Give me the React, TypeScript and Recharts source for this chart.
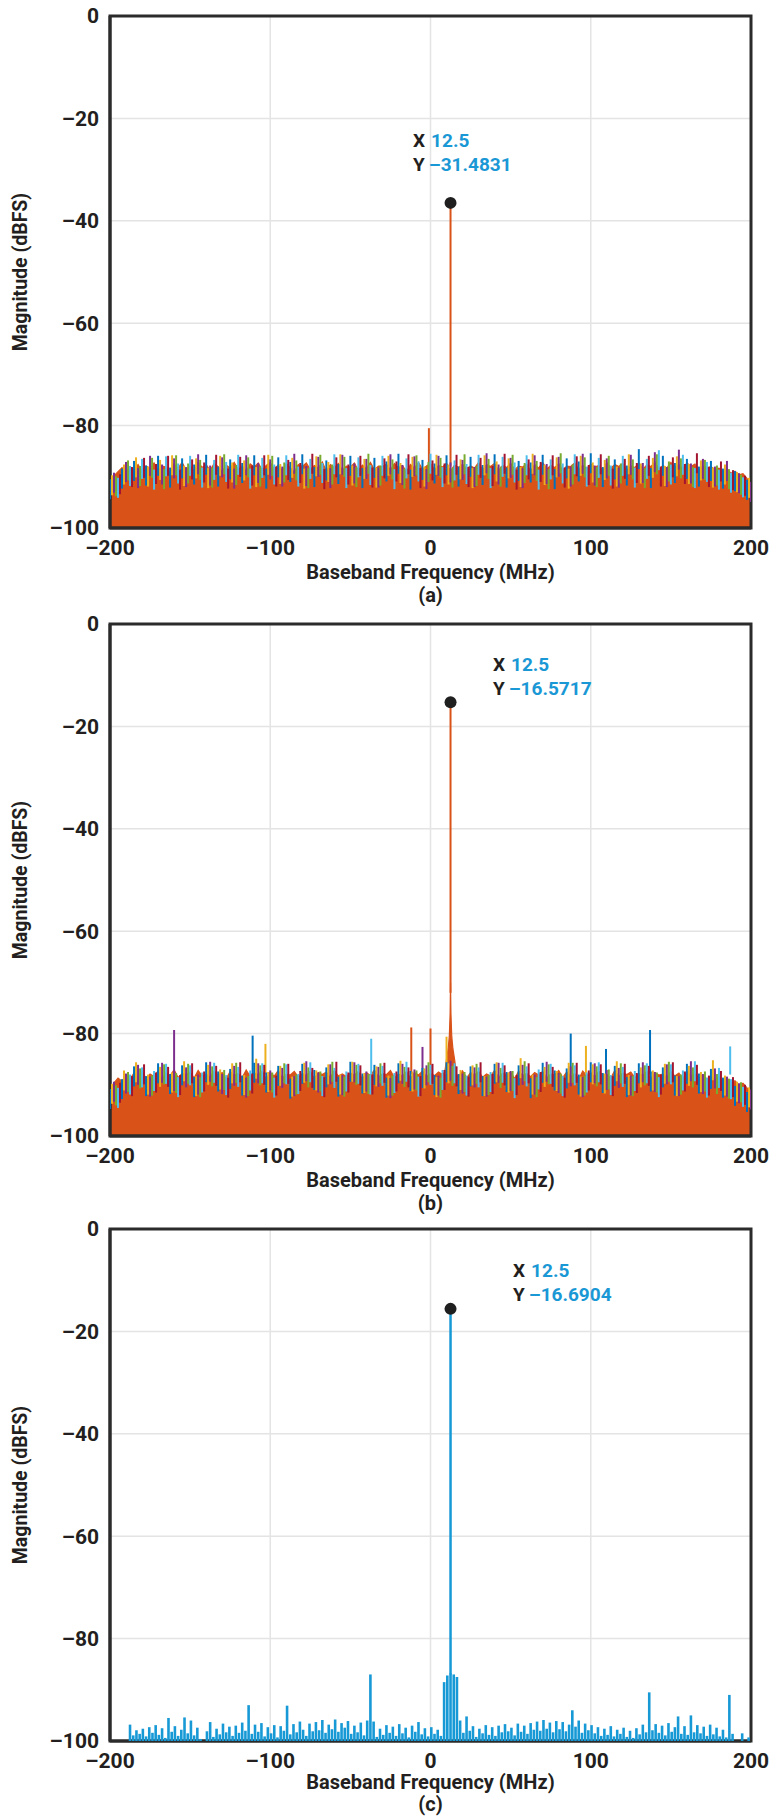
import React from 'react';
import {
  ComposedChart, Area, Scatter, XAxis, YAxis, CartesianGrid,
  ReferenceLine, ReferenceDot, ReferenceArea,
} from 'recharts';

const FONT = 'Roboto, "Noto Sans", sans-serif';
const INK = '#231f20';
const READOUT_BLUE = '#1a98d5';
const FRAME = '#2b2b2b';

const xTicks = [-200, -100, 0, 100, 200];
const yTicks = [0, -20, -40, -60, -80, -100];

// MATLAB default colour order used by the capture tool
const traceColors: Record<string, string> = {
  blue: '#0072BD', orange: '#D95319', yellow: '#EDB120', purple: '#7E2F8E',
  green: '#77AC30', cyan: '#4DBEEE', maroon: '#A2142F', c: '#1799d6',
};

// ---- (a) ----
const floorA = [
  -91.5, -89.8, -89.0, -88.2, -89.1, -88.0, -88.6, -87.6, -88.9, -87.9,
  -88.4, -87.3, -88.8, -87.9, -88.1, -89.2, -87.5, -88.3, -87.2, -88.7,
  -87.8, -88.9, -87.1, -88.2, -87.6, -88.8, -87.4, -88.0, -89.0, -87.7,
  -88.3, -87.2, -88.6, -87.9, -88.9, -87.5, -88.1, -87.3, -88.7, -87.8,
  -87.2, -88.5, -87.7, -88.8, -87.4, -88.2, -89.1, -87.6, -88.0, -87.3,
  -88.6, -87.8, -88.3, -87.1, -88.9, -87.6, -88.2, -87.4, -88.7, -87.9,
  -88.1, -87.3, -88.8, -87.7, -88.4, -87.2, -88.6, -87.9, -88.0, -87.5,
  -88.7, -87.4, -88.2, -87.8, -89.0, -87.6, -88.3, -87.2, -88.5, -87.9,
  -87.4, -88.6, -87.8, -88.1, -87.3, -88.9, -87.7, -88.2, -87.5, -88.4,
  -87.9, -88.3, -87.2, -88.7, -87.6, -88.0, -87.4, -88.8, -87.8, -88.2,
  -87.3, -88.6, -87.9, -88.1, -87.5, -88.9, -87.6, -88.3, -87.2, -88.5,
  -87.8, -88.2, -87.4, -88.7, -87.9, -88.0, -87.3, -88.6, -87.7, -88.4,
  -87.5, -88.1, -87.8, -88.8, -87.2, -88.3, -87.6, -88.0, -87.4, -88.7,
  -87.9, -88.2, -87.3, -88.5, -87.7, -88.0, -87.1, -88.6, -87.8, -88.3,
  -87.2, -88.1, -87.6, -88.4, -87.3, -88.0, -87.5, -88.7, -87.9, -88.2,
  -88.0, -88.6, -88.3, -89.1, -88.5, -89.3, -88.9, -89.6, -89.4, -90.3,
  -92.0,
];
const blueA = [
  -90.5, -88.4, -86.9, -87.8, -85.9, -88.2, -86.4, -87.6, -85.7, -88.0,
  -86.6, -87.3, -85.8, -88.4, -86.2, -87.1, -85.6, -88.1, -86.8, -87.5,
  -85.9, -88.3, -86.3, -87.0, -85.5, -88.6, -86.7, -87.4, -85.8, -88.0,
  -86.1, -87.7, -85.6, -88.2, -86.9, -87.2, -85.7, -88.5, -86.4, -87.0,
  -85.4, -88.1, -86.6, -87.8, -84.6, -88.3, -85.9, -87.3, -86.5, -88.0,
  -86.9, -88.4, -88.9, -90.6,
];
const yellowA = [
  -89.7, -87.6, -86.2, -88.0, -86.7, -85.8, -87.9, -86.4, -88.3, -85.9,
  -87.2, -86.8, -88.1, -85.7, -87.5, -86.3, -88.4, -86.0, -87.1, -85.6,
  -87.8, -86.5, -88.2, -85.9, -87.3, -86.1, -88.0, -85.7, -87.6, -86.6,
  -88.3, -85.8, -87.0, -86.4, -88.1, -85.5, -87.7, -86.2, -88.4, -85.9,
  -87.2, -86.7, -88.0, -85.6, -87.4, -86.3, -87.9, -86.0, -87.5, -86.8,
  -88.2, -87.6, -89.1, -90.2,
];
const purpleA = [
  -89.2, -87.1, -88.3, -85.9, -87.6, -86.4, -88.1, -85.6, -87.8, -86.2,
  -88.4, -85.8, -87.3, -86.6, -88.0, -85.5, -87.9, -86.1, -88.3, -85.7,
  -87.4, -86.5, -88.2, -85.6, -87.7, -86.0, -88.5, -85.9, -87.2, -86.7,
  -88.1, -85.4, -87.6, -86.3, -88.3, -85.8, -87.5, -86.1, -88.0, -85.5,
  -87.8, -86.4, -88.2, -85.7, -87.3, -85.2, -88.1, -84.7, -87.4, -86.5,
  -88.0, -86.9, -89.3, -91.0,
];
const greenA = [
  -89.9, -86.8, -87.9, -86.3, -88.5, -85.8, -87.4, -86.7, -88.2, -85.6,
  -87.7, -86.2, -88.0, -85.9, -87.2, -86.8, -88.3, -85.7, -87.6, -86.1,
  -88.1, -85.5, -87.8, -86.6, -88.4, -85.8, -87.1, -86.3, -88.2, -85.6,
  -87.9, -86.5, -88.0, -85.7, -87.3, -86.9, -88.5, -85.4, -87.6, -86.2,
  -88.1, -85.9, -87.4, -86.6, -88.3, -85.6, -87.0, -86.4, -88.1, -86.7,
  -87.8, -88.5, -89.6, -90.4,
];
const cyanA = [
  -90.2, -87.9, -86.5, -88.6, -86.0, -87.4, -85.9, -88.2, -86.7, -87.1,
  -85.7, -88.4, -86.3, -87.6, -85.8, -88.0, -86.5, -87.3, -85.6, -88.3,
  -86.2, -87.7, -85.9, -88.5, -86.4, -87.0, -85.5, -88.1, -86.8, -87.5,
  -85.7, -88.3, -86.1, -87.2, -85.8, -88.6, -86.6, -87.4, -85.6, -88.0,
  -86.3, -87.8, -85.9, -88.2, -86.5, -84.8, -87.6, -85.7, -88.3, -87.1,
  -88.6, -89.2, -90.1, -91.5,
];
const maroonA = [
  -89.5, -88.1, -86.3, -87.5, -85.9, -88.6, -86.6, -87.2, -85.7, -88.4,
  -86.1, -87.8, -85.8, -88.0, -86.7, -87.3, -85.5, -88.5, -86.2, -87.6,
  -85.9, -88.2, -86.4, -87.0, -85.6, -88.3, -86.8, -87.4, -85.7, -88.1,
  -86.3, -87.9, -85.5, -88.6, -86.6, -87.1, -85.8, -88.2, -86.0, -87.7,
  -85.6, -88.4, -86.5, -87.3, -85.9, -88.0, -86.2, -87.5, -85.4, -88.1,
  -87.0, -88.7, -89.8, -91.2,
];
const spursA = [{ f: -1, v: -80.5, trace: 'orange' }];
const peakA = { f: 12.5, v: -36.5 };
const readoutA = { x: '12.5', y: '\u201331.4831' };

// ---- (b) ----
const floorB = [
  -91.0, -89.6, -88.7, -89.3, -88.1, -88.9, -87.7, -88.5, -87.4, -88.8,
  -87.9, -88.4, -87.3, -88.9, -87.6, -88.2, -87.1, -88.6, -87.8, -88.0,
  -87.5, -88.7, -87.2, -88.3, -87.9, -88.5, -87.3, -88.1, -87.6, -88.8,
  -87.4, -88.2, -87.8, -88.6, -87.1, -88.4, -87.7, -88.0, -87.3, -88.9,
  -87.6, -88.3, -87.2, -88.7, -87.9, -88.1, -87.4, -88.5, -87.8, -88.2,
  -87.3, -88.8, -87.6, -88.0, -87.5, -88.6, -87.2, -88.3, -87.9, -88.4,
  -87.7, -88.1, -87.4, -88.9, -87.6, -88.2, -87.1, -88.5, -87.8, -88.0,
  -87.2, -88.6, -87.9, -88.3, -87.4, -88.7, -87.6, -88.1, -87.3, -88.4,
  -87.8, -88.2, -87.5, -88.0, -87.1, -87.9, -87.6, -88.4, -87.3, -88.7,
  -87.6, -88.1, -87.4, -88.5, -87.9, -88.3, -87.2, -88.6, -87.7, -88.0,
  -87.5, -88.8, -87.3, -88.2, -87.8, -88.4, -87.6, -88.1, -87.4, -88.7,
  -87.9, -88.0, -87.2, -88.6, -87.5, -88.3, -87.8, -88.9, -87.3, -88.2,
  -87.6, -88.5, -87.4, -88.1, -87.9, -88.7, -87.2, -88.4, -87.7, -88.0,
  -87.5, -88.6, -87.8, -88.2, -87.3, -88.9, -87.6, -88.1, -87.9, -88.5,
  -87.4, -88.3, -87.7, -88.8, -87.5, -88.2, -87.9, -88.6, -88.1, -88.9,
  -88.3, -89.0, -88.5, -89.4, -88.8, -89.6, -89.2, -90.1, -89.7, -90.6,
  -92.3,
];
const blueB = [
  -90.8, -88.9, -86.4, -88.3, -85.8, -87.9, -86.2, -88.5, -85.6, -87.4,
  -86.9, -88.2, -85.7, -87.6, -86.3, -88.8, -85.9, -87.1, -86.6, -88.4,
  -85.5, -87.8, -86.1, -88.6, -85.8, -87.3, -86.7, -88.1, -85.6, -87.9,
  -86.4, -88.3, -85.9, -87.5, -86.2, -88.7, -85.7, -87.2, -86.8, -88.0,
  -85.6, -87.7, -86.3, -88.5, -85.8, -87.4, -86.6, -88.2, -85.9, -87.8,
  -86.9, -88.6, -90.2, -91.4,
];
const yellowB = [
  -89.8, -87.2, -85.6, -88.0, -86.5, -87.6, -85.4, -88.3, -86.1, -87.0,
  -85.8, -88.1, -84.9, -87.5, -86.3, -88.4, -85.7, -87.2, -86.0, -88.0,
  -85.5, -87.7, -86.4, -88.2, -85.3, -87.4, -86.8, -88.5, -85.8, -87.1,
  -86.2, -88.3, -85.6, -87.6, -84.8, -88.0, -86.5, -87.3, -85.7, -88.4,
  -86.0, -87.8, -85.4, -88.1, -86.6, -87.2, -85.9, -88.3, -86.3, -87.5,
  -85.2, -88.2, -89.4, -90.5,
];
const purpleB = [
  -89.4, -87.8, -86.1, -88.4, -85.7, -87.3, -86.6, -88.0, -85.5, -87.9,
  -86.3, -88.6, -85.8, -87.2, -86.7, -88.3, -85.4, -87.6, -86.0, -88.1,
  -85.6, -87.4, -86.5, -88.7, -85.9, -87.0, -86.2, -88.2, -85.3, -87.8,
  -86.6, -88.4, -85.7, -87.3, -86.1, -88.0, -85.5, -87.7, -86.4, -88.5,
  -85.8, -87.1, -86.7, -88.2, -85.6, -87.5, -86.0, -88.3, -85.4, -87.9,
  -86.8, -88.4, -89.7, -90.9,
];
const greenB = [
  -90.1, -87.5, -86.8, -88.2, -86.0, -87.7, -85.9, -88.5, -86.4, -87.1,
  -85.7, -88.3, -86.2, -87.6, -85.8, -88.0, -86.6, -87.4, -85.5, -88.4,
  -86.1, -87.9, -85.8, -88.2, -86.5, -87.2, -85.6, -88.6, -86.3, -87.5,
  -85.9, -88.1, -86.7, -87.3, -85.4, -88.5, -86.0, -87.8, -85.7, -88.2,
  -86.4, -87.0, -85.8, -88.3, -86.2, -87.6, -85.5, -88.0, -86.6, -87.4,
  -87.9, -88.8, -89.5, -90.3,
];
const cyanB = [
  -90.6, -88.0, -86.6, -87.3, -85.9, -88.5, -86.2, -87.6, -85.7, -88.1,
  -86.5, -87.2, -85.8, -88.6, -86.0, -87.9, -85.6, -88.3, -86.7, -87.4,
  -85.9, -88.0, -86.3, -87.7, -85.5, -88.4, -86.1, -87.1, -85.8, -88.2,
  -86.6, -87.5, -85.7, -88.7, -86.4, -87.0, -85.9, -88.3, -86.2, -87.6,
  -85.6, -88.1, -86.5, -87.3, -85.8, -88.5, -86.0, -87.2, -85.4, -88.6,
  -86.7, -88.9, -90.4, -91.8,
];
const maroonB = [
  -89.6, -88.3, -86.0, -87.6, -86.5, -88.1, -85.8, -87.4, -86.3, -88.6,
  -85.6, -87.8, -86.1, -88.2, -85.9, -87.3, -86.7, -88.5, -85.5, -87.6,
  -86.2, -88.0, -85.7, -87.4, -86.6, -88.3, -85.9, -87.1, -86.4, -88.4,
  -85.6, -87.9, -86.2, -88.1, -85.8, -87.5, -86.5, -88.6, -85.7, -87.2,
  -86.0, -88.3, -85.9, -87.7, -86.3, -88.0, -85.6, -87.4, -86.1, -88.2,
  -87.3, -88.5, -90.0, -91.1,
];
const spursB = [
  { f: -160, v: -79.3, trace: 'purple' },
  { f: -111, v: -80.4, trace: 'blue' },
  { f: -103, v: -82.0, trace: 'yellow' },
  { f: -37, v: -81.0, trace: 'cyan' },
  { f: -12, v: -78.8, trace: 'orange' },
  { f: -5, v: -82.6, trace: 'purple' },
  { f: 0, v: -79.0, trace: 'orange' },
  { f: 10, v: -80.6, trace: 'yellow' },
  { f: 87.5, v: -80.0, trace: 'blue' },
  { f: 97, v: -82.4, trace: 'yellow' },
  { f: 109.5, v: -83.0, trace: 'blue' },
  { f: 137, v: -79.3, trace: 'blue' },
  { f: 187, v: -82.5, trace: 'cyan' },
];
const skirtB = [
  { f: 8.5, v: -88.5 }, { f: 10, v: -85 }, { f: 11, v: -83 }, { f: 11.75, v: -80.5 },
  { f: 12.25, v: -76 }, { f: 12.5, v: -70 }, { f: 12.75, v: -76 }, { f: 13.25, v: -80.5 },
  { f: 14, v: -83 }, { f: 15, v: -85 }, { f: 16.5, v: -88.5 },
];
const peakB = { f: 12.5, v: -15.3 };
const readoutB = { x: '12.5', y: '\u201316.5717' };

// ---- (c) ---- bins start at -187.5 MHz, 2 MHz apart
const spectrumC = [
  -96.8, -98.9, -97.9, -98.6, -97.6, -99.1, -97.3, -98.4, -96.9, -98.8,
  -97.5, -99.4, -95.5, -98.2, -97.1, -99.0, -97.8, -95.4, -98.5, -96.0,
  -98.9, -97.4, -99.6, -101.0, -98.1, -96.3, -99.2, -97.6, -98.7, -96.6,
  -98.3, -97.2, -99.0, -97.0, -98.4, -96.4, -98.0, -93.0, -98.6, -96.8,
  -98.2, -96.5, -99.1, -97.3, -98.5, -96.9, -99.3, -97.1, -98.0, -93.1,
  -98.7, -96.7, -98.3, -96.2, -97.8, -99.0, -96.6, -98.1, -96.3, -97.9,
  -95.9, -98.4, -96.8, -97.7, -95.8, -98.2, -96.5, -97.4, -96.1, -98.6,
  -97.0, -98.3, -96.4, -98.9, -96.0, -87.0, -96.2, -99.2, -97.6, -98.8,
  -96.9, -98.4, -97.2, -99.0, -96.7, -98.5, -97.4, -99.3, -97.0, -98.2,
  -96.3, -98.7, -97.5, -99.1, -97.3, -98.6, -97.8, -99.0, -88.5, -87.2,
  -86.8, -87.0, -87.5, -96.0, -98.4, -95.2, -98.0, -97.1, -99.2, -97.6,
  -98.5, -96.9, -98.8, -97.3, -99.0, -97.0, -98.3, -96.7, -98.1, -97.4,
  -98.9, -96.6, -98.2, -97.0, -98.6, -96.5, -97.8, -96.2, -98.0, -95.9,
  -97.6, -96.4, -98.3, -96.1, -97.7, -96.3, -98.1, -96.8, -94.0, -97.2,
  -96.0, -98.4, -96.6, -97.9, -96.9, -98.5, -97.3, -99.0, -97.6, -98.8,
  -97.1, -99.1, -97.8, -98.6, -97.4, -99.2, -98.0, -99.4, -97.5, -98.7,
  -96.8, -98.3, -90.5, -97.9, -96.7, -98.4, -97.0, -98.9, -96.5, -98.2,
  -97.3, -95.2, -98.6, -97.1, -98.8, -95.0, -98.3, -96.9, -98.5, -97.2,
  -99.0, -96.8, -98.7, -97.4, -99.1, -97.8, -99.3, -91.0, -98.6, -101.5,
  -101.5, -98.5, -101.5, -99.3,
];
const peakC = { f: 12.5, v: -15.6 };
const readoutC = { x: '12.5', y: '\u201316.6904' };

const bins = (start: number, step: number, vals: number[]) =>
  vals.map((v, i) => ({ f: start + i * step, v }));

const traceSet = (vals: Record<string, number[]>) =>
  ['blue', 'yellow', 'purple', 'green', 'cyan', 'maroon'].map((name, k) => ({
    name,
    data: bins(-200 + k * 1.25, 7.5, vals[name]),
  }));

const fmt = (v: number) => (v < 0 ? `\u2013${Math.abs(v)}` : `${v}`);

// vertical stroke hanging down from each point (clipped at the plot edge)
const stem = (color: string, len: number, width: number) => (p: any) =>
  p.cx == null || p.cy == null ? <g /> : (
    <line x1={p.cx} x2={p.cx} y1={p.cy} y2={p.cy + len} stroke={color} strokeWidth={width} />
  );

const tickStyle = { fill: INK, fontFamily: FONT, fontWeight: 700, fontSize: 21 };
const titleStyle = { fill: INK, fontFamily: FONT, fontWeight: 700, fontSize: 20 };

function YTitle({ viewBox }: any) {
  const cx = viewBox.x + 20;
  const cy = viewBox.y + viewBox.height / 2;
  return (
    <text x={cx} y={cy} transform={`rotate(-90 ${cx} ${cy})`} textAnchor="middle"
      dominantBaseline="central" {...titleStyle} fontSize={19.5}>Magnitude (dBFS)</text>
  );
}

function XTitle({ viewBox, caption, titleDy, captionDy }: any) {
  const cx = viewBox.x + viewBox.width / 2;
  return (
    <g>
      <text x={cx} y={viewBox.y + titleDy} textAnchor="middle" dominantBaseline="central" {...titleStyle}>
        Baseband Frequency (MHz)
      </text>
      <text x={cx} y={viewBox.y + captionDy} textAnchor="middle" dominantBaseline="central" {...titleStyle}>
        {caption}
      </text>
    </g>
  );
}

function Readout({ viewBox, readout }: any) {
  const { x, y } = viewBox;
  return (
    <g fontFamily={FONT} fontWeight={700} fontSize={19}>
      <text x={x} y={y} dominantBaseline="central">
        <tspan fill={INK}>X</tspan>
        <tspan fill={READOUT_BLUE} dx={6}>{readout.x}</tspan>
      </text>
      <text x={x} y={y + 24} dominantBaseline="central">
        <tspan fill={INK}>Y</tspan>
        <tspan fill={READOUT_BLUE} dx={5}>{readout.y}</tspan>
      </text>
    </g>
  );
}

function SpectrumPanel(props: any) {
  const {
    floor, floorColor, floorAsStems = false, traces = [], spurs = [], skirt,
    peak, peakBase, peakWidth = 2, readout, readoutAt, caption, titleDy = 44, captionDy = 67,
  } = props;
  return (
    <ComposedChart width={782} height={606} margin={{ top: 16, right: 31, bottom: 0, left: 0 }}>
      <CartesianGrid stroke="#e4e4e4" strokeWidth={1.5} />
      <XAxis dataKey="f" type="number" domain={[-200, 200]} ticks={xTicks} interval={0}
        allowDataOverflow tickLine={false} axisLine={{ stroke: FRAME, strokeWidth: 3 }}
        tick={tickStyle} tickFormatter={fmt} tickMargin={6} height={78}
        label={<XTitle caption={caption} titleDy={titleDy} captionDy={captionDy} />} />
      <YAxis type="number" domain={[-100, 0]} ticks={yTicks} interval={0}
        allowDataOverflow tickLine={false} axisLine={{ stroke: FRAME, strokeWidth: 3 }}
        tick={tickStyle} tickFormatter={fmt} tickMargin={5} width={110}
        label={<YTitle />} />
      {traces.map((t: any) => (
        <Scatter key={t.name} data={t.data} dataKey="v" shape={stem(traceColors[t.name], 20, 2)}
          isAnimationActive={false} />
      ))}
      {floorAsStems ? (
        <Scatter data={floor} dataKey="v" shape={stem(floorColor, 90, 2.6)} isAnimationActive={false} />
      ) : (
        <Area data={floor} dataKey="v" type="linear" baseValue={-100} stroke={floorColor}
          strokeWidth={1.2} fill={floorColor} fillOpacity={1} dot={false} activeDot={false}
          isAnimationActive={false} />
      )}
      {skirt && (
        <Area data={skirt} dataKey="v" type="linear" baseValue={-100} stroke={floorColor}
          strokeWidth={1.2} fill={floorColor} fillOpacity={1} dot={false} activeDot={false}
          isAnimationActive={false} />
      )}
      {spurs.map((s: any, i: number) => (
        <ReferenceLine key={i} segment={[{ x: s.f, y: -88 }, { x: s.f, y: s.v }]}
          stroke={traceColors[s.trace]} strokeWidth={2} />
      ))}
      <ReferenceLine segment={[{ x: peak.f, y: peakBase }, { x: peak.f, y: peak.v }]}
        stroke={floorColor} strokeWidth={peakWidth} />
      <ReferenceArea x1={-200} x2={200} y1={-100} y2={0} fill="none" fillOpacity={0}
        stroke={FRAME} strokeWidth={3} />
      <ReferenceDot x={peak.f} y={peak.v} r={6} fill="#1f1f1f" stroke="none" />
      <ReferenceDot x={readoutAt.f} y={readoutAt.v} r={0} fill="none" stroke="none"
        label={<Readout readout={readout} />} />
    </ComposedChart>
  );
}

export default function App() {
  const orange = traceColors.orange;
  return (
    <div style={{ position: 'absolute', left: 0, top: 0, width: 782, height: 1818, overflow: 'hidden', background: '#fff' }}>
      <div style={{ position: 'absolute', left: 0, top: 0 }}>
        <SpectrumPanel
          floor={bins(-200, 2.5, floorA)} floorColor={orange}
          traces={traceSet({ blue: blueA, yellow: yellowA, purple: purpleA, green: greenA, cyan: cyanA, maroon: maroonA })}
          spurs={spursA} peak={peakA} peakBase={-88} readout={readoutA}
          readoutAt={{ f: -10.9, v: -24.2 }} caption="(a)" />
      </div>
      <div style={{ position: 'absolute', left: 0, top: 608 }}>
        <SpectrumPanel
          floor={bins(-200, 2.5, floorB)} floorColor={orange}
          traces={traceSet({ blue: blueB, yellow: yellowB, purple: purpleB, green: greenB, cyan: cyanB, maroon: maroonB })}
          spurs={spursB} skirt={skirtB} peak={peakB} peakBase={-72} readout={readoutB}
          readoutAt={{ f: 39, v: -7.8 }} caption="(b)" />
      </div>
      <div style={{ position: 'absolute', left: 0, top: 1213 }}>
        <SpectrumPanel
          floor={bins(-187.5, 2, spectrumC)} floorColor={traceColors.c} floorAsStems
          peak={peakC} peakBase={-87} peakWidth={2.5} readout={readoutC}
          readoutAt={{ f: 51.5, v: -8.0 }} caption="(c)" titleDy={41} captionDy={63} />
      </div>
    </div>
  );
}
